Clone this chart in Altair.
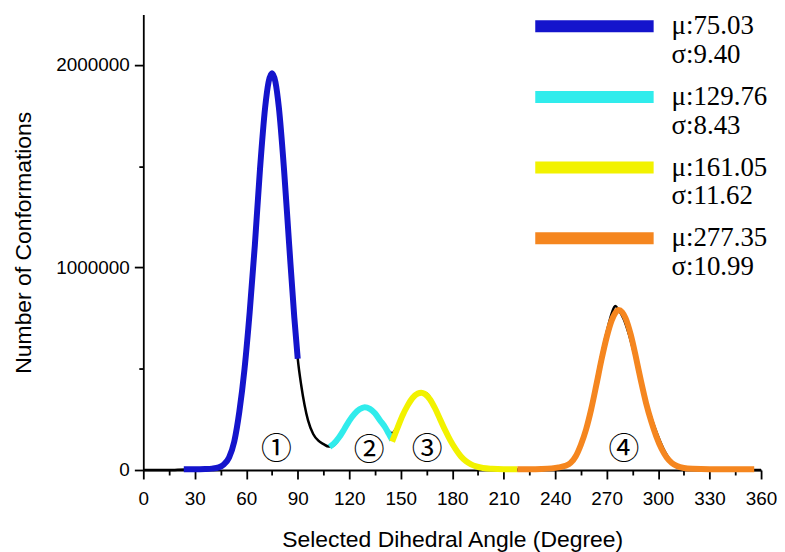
import altair as alt
import pandas as pd

# ---------------- data (counts in millions) ----------------
black_deg = [0, 5, 10, 15, 20, 25, 30, 35, 40, 44, 47, 50, 53, 56, 59, 62, 65, 68, 71, 73, 75, 77, 79,
             82, 85, 88, 90, 92, 94, 96, 99, 102, 105, 108, 110, 113, 116, 119, 122, 125, 128, 131,
             134, 137, 140, 143, 145, 147, 150, 153, 156, 159, 162, 165, 168, 171, 174, 177, 180,
             183, 186, 190, 195, 200, 210, 220, 230, 240, 245, 250, 254, 258, 262, 266, 270, 273,
             275, 277, 280, 283, 286, 289, 292, 295, 298, 301, 304, 307, 310, 315, 320, 330, 340,
             350, 360]
black_val = [0.0, 0.0, 0.0, 0.0, 0.001, 0.002, 0.003, 0.004, 0.007, 0.013, 0.028, 0.062, 0.14, 0.29,
             0.50, 0.78, 1.11, 1.485, 1.79, 1.916, 1.965, 1.916, 1.79, 1.485, 1.113, 0.753, 0.55,
             0.42, 0.32, 0.245, 0.178, 0.145, 0.128, 0.116, 0.117, 0.14, 0.18, 0.225, 0.265, 0.293,
             0.308, 0.307, 0.29, 0.26, 0.225, 0.192, 0.182, 0.20, 0.255, 0.305, 0.345, 0.372, 0.383,
             0.378, 0.345, 0.29, 0.235, 0.18, 0.13, 0.09, 0.058, 0.03, 0.014, 0.007, 0.003, 0.002,
             0.003, 0.008, 0.017, 0.05, 0.11, 0.21, 0.36, 0.53, 0.68, 0.775, 0.81, 0.79, 0.745,
             0.67, 0.575, 0.47, 0.37, 0.285, 0.21, 0.145, 0.09, 0.05, 0.027, 0.01, 0.004, 0.002,
             0.001, 0.0, 0.0]

blue_deg = [23.6, 30, 36, 40, 44, 47, 50, 53, 56, 59, 62, 65, 68, 71, 73, 75, 77, 79, 82, 85, 88, 90]
blue_val = [0.004, 0.004, 0.005, 0.007, 0.013, 0.028, 0.062, 0.14, 0.29, 0.50, 0.78, 1.11, 1.485,
            1.79, 1.916, 1.96, 1.916, 1.79, 1.485, 1.113, 0.753, 0.55]

cyan_deg = [108.6, 111, 114, 117, 120, 123, 126, 129, 132, 135, 138, 141, 143, 145]
cyan_val = [0.114, 0.13, 0.16, 0.20, 0.243, 0.277, 0.30, 0.31, 0.302, 0.28, 0.245, 0.21, 0.18, 0.148]

yellow_deg = [145, 148, 151, 154, 157, 160, 162, 164, 167, 170, 173, 176, 179, 182, 185, 188, 191,
              194, 198, 203, 210, 218]
yellow_val = [0.14, 0.205, 0.268, 0.318, 0.357, 0.378, 0.382, 0.376, 0.35, 0.305, 0.25, 0.195,
              0.145, 0.103, 0.068, 0.044, 0.028, 0.018, 0.01, 0.006, 0.004, 0.004]

orange_deg = [218, 225, 232, 238, 242, 246, 249, 252, 255, 258, 261, 264, 267, 270, 273, 275, 277,
              279, 281, 284, 287, 290, 293, 296, 299, 302, 305, 308, 311, 315, 320, 330, 340, 356]
orange_val = [0.004, 0.004, 0.005, 0.008, 0.013, 0.021, 0.035, 0.068, 0.125, 0.20, 0.30, 0.42,
              0.545, 0.655, 0.74, 0.775, 0.79, 0.78, 0.75, 0.67, 0.56, 0.44, 0.33, 0.24, 0.165,
              0.105, 0.062, 0.035, 0.02, 0.01, 0.006, 0.004, 0.004, 0.004]

mu_text = ["75.03", "129.76", "161.05", "277.35"]
sigma_text = ["9.40", "8.43", "11.62", "10.99"]
fit_colors = ["#1414cc", "#30ecec", "#f2f200", "#f5861f"]

ann_deg = [75.8, 129.9, 163.7, 278.3]
ann_val = [0.098, 0.092, 0.098, 0.098]
ann_text = ["①", "②", "③", "④"]

# ---------------- tables ----------------
names = [f"μ:{m}\nσ:{s}" for m, s in zip(mu_text, sigma_text)]
rows = []
for name, degs, vals in zip(names, [blue_deg, cyan_deg, yellow_deg, orange_deg],
                            [blue_val, cyan_val, yellow_val, orange_val]):
    for d, v in zip(degs, vals):
        rows.append({"series": name, "angle": d, "count": v * 1e6})
fits = pd.DataFrame(rows)
black = pd.DataFrame({"angle": black_deg, "count": [v * 1e6 for v in black_val]})
ann = pd.DataFrame({"angle": ann_deg, "count": [v * 1e6 for v in ann_val], "label": ann_text})

SANS = "Liberation Sans"

x_enc = alt.X(
    "angle:Q",
    scale=alt.Scale(domain=[0, 360], nice=False),
    axis=alt.Axis(
        title="Selected Dihedral Angle (Degree)",
        values=list(range(0, 361, 15)),
        labelExpr="datum.value % 30 === 0 ? datum.label : ''",
        tickSize={"condition": {"test": "datum.value % 30 === 0", "value": 9}, "value": 5},
        labelFlush=False,
        labelPadding=11,
        titlePadding=20,
    ),
)
y_enc = alt.Y(
    "count:Q",
    scale=alt.Scale(domain=[0, 2250000], nice=False),
    axis=alt.Axis(
        title="Number of Conformations",
        values=[0, 500000, 1000000, 1500000, 2000000],
        format="d",
        labelExpr="datum.value % 1000000 === 0 ? datum.label : ''",
        tickSize={"condition": {"test": "datum.value % 1000000 === 0", "value": 9}, "value": 4.5},
        labelPadding=5,
        titlePadding=20,
    ),
)

black_line = alt.Chart(black).mark_line(color="black", strokeWidth=2.5, interpolate="monotone").encode(
    x=x_enc, y=y_enc
)

fit_lines = alt.Chart(fits).mark_line(strokeWidth=6, interpolate="monotone").encode(
    x=x_enc,
    y=y_enc,
    color=alt.Color(
        "series:N",
        scale=alt.Scale(domain=names, range=fit_colors),
        sort=names,
        legend=alt.Legend(
            title=None,
            orient="none",
            legendX=388,
            legendY=-3,
            padding=0,
            symbolType="M-1,0H1",
            symbolSize=14161,
            symbolStrokeWidth=12,
            symbolOpacity=1,
            clipHeight=30,
            labelExpr="split(datum.label, '\\n')",
            labelFont="Liberation Serif",
            labelFontSize=27,
            labelColor="black",
            labelOffset=12,
            labelLimit=300,
            rowPadding=14,
        ),
    ),
)

labels = alt.Chart(ann).mark_text(font="Noto Sans CJK SC", fontSize=31, color="black", dx=3).encode(
    x=x_enc, y=y_enc, text="label:N"
)

chart = (
    alt.layer(black_line, fit_lines, labels)
    .properties(width=621, height=458, padding={"left": 5, "top": 2, "right": 0, "bottom": 0})
    .configure_view(stroke=None)
    .configure_axis(
        grid=False,
        domainColor="black",
        domainWidth=1.8,
        tickColor="black",
        tickWidth=1.8,
        labelFont=SANS,
        labelFontSize=19,
        labelColor="black",
        titleFont=SANS,
        titleFontSize=23,
        titleFontWeight="normal",
        titleColor="black",
    )
)

chart.save("out.html", embed_options={"renderer": "svg", "actions": False})
